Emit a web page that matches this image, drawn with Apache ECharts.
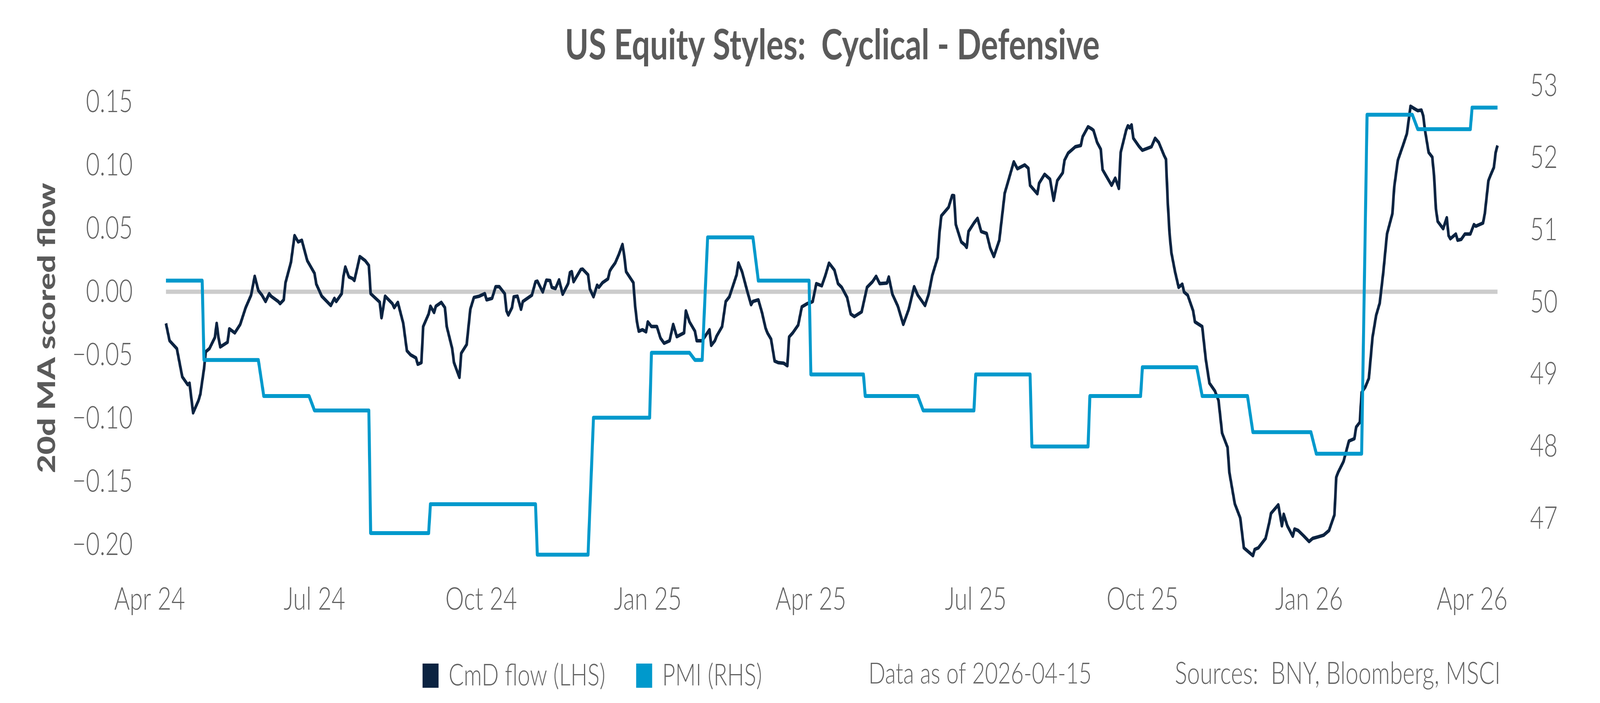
<!DOCTYPE html>
<html><head><meta charset="utf-8">
<script src="https://cdn.jsdelivr.net/npm/echarts@6/dist/echarts.min.js"></script>
<style>html,body{margin:0;padding:0;background:#fff;overflow:hidden}#wrap{width:100vw;height:100vh;overflow:hidden;position:relative}#chart{width:5400px;height:1800px;transform-origin:0 0;position:absolute;left:0;top:0}</style>
</head><body><div id="wrap"><div id="chart"></div></div>
<script>
const flowDates = ['2024-04-10','2024-04-12','2024-04-16','2024-04-19','2024-04-22','2024-04-23','2024-04-25','2024-04-28','2024-04-29','2024-05-01','2024-05-02','2024-05-04','2024-05-07','2024-05-08','2024-05-09','2024-05-10','2024-05-14','2024-05-15','2024-05-18','2024-05-21','2024-05-24','2024-05-27','2024-05-29','2024-05-31','2024-06-02','2024-06-04','2024-06-06','2024-06-07','2024-06-11','2024-06-12','2024-06-14','2024-06-15','2024-06-18','2024-06-20','2024-06-22','2024-06-24','2024-06-27','2024-07-01','2024-07-02','2024-07-05','2024-07-10','2024-07-12','2024-07-13','2024-07-16','2024-07-17','2024-07-18','2024-07-20','2024-07-22','2024-07-23','2024-07-25','2024-07-26','2024-07-29','2024-07-31','2024-08-01','2024-08-06','2024-08-07','2024-08-09','2024-08-13','2024-08-14','2024-08-16','2024-08-19','2024-08-21','2024-08-23','2024-08-26','2024-08-27','2024-08-29','2024-08-30','2024-09-02','2024-09-03','2024-09-05','2024-09-06','2024-09-09','2024-09-11','2024-09-12','2024-09-15','2024-09-16','2024-09-19','2024-09-20','2024-09-23','2024-09-25','2024-09-27','2024-09-30','2024-10-03','2024-10-04','2024-10-07','2024-10-09','2024-10-11','2024-10-14','2024-10-15','2024-10-16','2024-10-18','2024-10-19','2024-10-21','2024-10-23','2024-10-24','2024-10-29','2024-10-31','2024-11-01','2024-11-04','2024-11-06','2024-11-08','2024-11-09','2024-11-11','2024-11-13','2024-11-15','2024-11-18','2024-11-19','2024-11-20','2024-11-21','2024-11-25','2024-11-26','2024-11-29','2024-11-30','2024-12-02','2024-12-04','2024-12-05','2024-12-07','2024-12-10','2024-12-11','2024-12-12','2024-12-14','2024-12-16','2024-12-18','2024-12-19','2024-12-20','2024-12-24','2024-12-25','2024-12-26','2024-12-27','2024-12-29','2024-12-31','2025-01-01','2025-01-03','2025-01-06','2025-01-08','2025-01-10','2025-01-13','2025-01-15','2025-01-17','2025-01-21','2025-01-22','2025-01-24','2025-01-27','2025-01-28','2025-01-31','2025-02-04','2025-02-05','2025-02-07','2025-02-08','2025-02-11','2025-02-13','2025-02-15','2025-02-17','2025-02-19','2025-02-20','2025-02-22','2025-02-25','2025-02-27','2025-02-28','2025-03-03','2025-03-05','2025-03-07','2025-03-08','2025-03-10','2025-03-12','2025-03-14','2025-03-17','2025-03-19','2025-03-20','2025-03-22','2025-03-25','2025-03-27','2025-03-30','2025-04-01','2025-04-02','2025-04-04','2025-04-07','2025-04-09','2025-04-11','2025-04-12','2025-04-14','2025-04-16','2025-04-18','2025-04-21','2025-04-23','2025-04-25','2025-04-29','2025-05-02','2025-05-05','2025-05-07','2025-05-09','2025-05-13','2025-05-14','2025-05-16','2025-05-19','2025-05-22','2025-05-25','2025-05-28','2025-05-30','2025-06-03','2025-06-05','2025-06-07','2025-06-10','2025-06-11','2025-06-12','2025-06-16','2025-06-18','2025-06-19','2025-06-20','2025-06-23','2025-06-25','2025-06-26','2025-06-27','2025-06-30','2025-07-02','2025-07-04','2025-07-07','2025-07-09','2025-07-11','2025-07-14','2025-07-17','2025-07-19','2025-07-22','2025-07-24','2025-07-28','2025-07-30','2025-07-31','2025-08-04','2025-08-05','2025-08-08','2025-08-11','2025-08-13','2025-08-15','2025-08-18','2025-08-19','2025-08-21','2025-08-25','2025-08-28','2025-08-29','2025-09-01','2025-09-03','2025-09-04','2025-09-06','2025-09-08','2025-09-09','2025-09-11','2025-09-14','2025-09-16','2025-09-18','2025-09-19','2025-09-22','2025-09-23','2025-09-24','2025-09-25','2025-09-26','2025-09-29','2025-10-01','2025-10-06','2025-10-08','2025-10-10','2025-10-13','2025-10-14','2025-10-15','2025-10-16','2025-10-17','2025-10-19','2025-10-21','2025-10-23','2025-10-24','2025-10-26','2025-10-29','2025-10-30','2025-11-03','2025-11-05','2025-11-07','2025-11-10','2025-11-12','2025-11-14','2025-11-17','2025-11-18','2025-11-21','2025-11-24','2025-11-26','2025-12-01','2025-12-02','2025-12-04','2025-12-08','2025-12-10','2025-12-11','2025-12-15','2025-12-17','2025-12-18','2025-12-20','2025-12-23','2025-12-24','2025-12-26','2025-12-29','2026-01-01','2026-01-03','2026-01-06','2026-01-09','2026-01-12','2026-01-15','2026-01-16','2026-01-17','2026-01-20','2026-01-23','2026-01-26','2026-01-27','2026-01-29','2026-01-30','2026-02-01','2026-02-03','2026-02-05','2026-02-07','2026-02-09','2026-02-11','2026-02-13','2026-02-16','2026-02-17','2026-02-19','2026-02-22','2026-02-24','2026-02-26','2026-02-28','2026-03-02','2026-03-04','2026-03-05','2026-03-06','2026-03-08','2026-03-10','2026-03-11','2026-03-12','2026-03-13','2026-03-16','2026-03-18','2026-03-19','2026-03-20','2026-03-23','2026-03-24','2026-03-26','2026-03-28','2026-03-31','2026-04-02','2026-04-03','2026-04-07','2026-04-08','2026-04-10','2026-04-11','2026-04-13','2026-04-14','2026-04-15'];
const flowValues = [-0.025,-0.0387,-0.0449,-0.0672,-0.0734,-0.0722,-0.0957,-0.0858,-0.0808,-0.061,-0.0474,-0.0449,-0.0362,-0.025,-0.0362,-0.0436,-0.0399,-0.0293,-0.0325,-0.0258,-0.0126,-0.0027,0.0122,0.001,-0.0027,-0.0077,-0.0015,-0.0035,-0.0077,-0.0094,-0.0064,0.0072,0.0233,0.0444,0.0394,0.0407,0.0246,0.0146,0.006,-0.0035,-0.0109,-0.0052,-0.0077,-0.0015,0.0122,0.0196,0.0117,0.0104,0.0089,0.0213,0.0278,0.0246,0.0208,-0.0015,-0.0082,-0.0206,-0.0035,-0.0094,-0.0126,-0.0084,-0.025,-0.0466,-0.0498,-0.0523,-0.0573,-0.056,-0.0275,-0.0176,-0.0114,-0.0164,-0.0114,-0.0084,-0.0126,-0.0275,-0.0449,-0.056,-0.0677,-0.0486,-0.0417,-0.0139,-0.0045,-0.0035,-0.0015,-0.0064,-0.0052,0.004,0.004,-0.0015,-0.0151,-0.0184,-0.0126,-0.004,-0.0035,-0.0139,-0.0077,-0.0027,0.0079,0.0084,-0.0002,0.0092,0.0089,0.0035,0.0025,0.0094,-0.002,0.0064,0.0151,0.0159,0.0079,0.0176,0.0179,0.0134,0.0022,-0.004,0.0052,0.0035,0.0072,0.0102,0.0164,0.0188,0.0228,0.0295,0.0374,0.0283,0.0159,0.0072,-0.0114,-0.0238,-0.0312,-0.03,-0.0317,-0.0238,-0.0275,-0.0275,-0.0367,-0.0407,-0.0387,-0.0258,-0.0355,-0.0325,-0.0151,-0.0238,-0.0312,-0.0387,-0.0387,-0.03,-0.0424,-0.0387,-0.035,-0.0275,-0.0077,-0.004,0.0047,0.0134,0.0228,0.0159,-0.0002,-0.0102,-0.0077,-0.0064,-0.0164,-0.0288,-0.0325,-0.0374,-0.0548,-0.056,-0.0565,-0.0585,-0.0357,-0.0325,-0.0263,-0.0119,-0.0094,-0.0084,-0.0077,0.0064,0.0047,0.0129,0.0226,0.0208,0.0171,0.0064,0.0035,-0.0045,-0.0176,-0.0196,-0.0159,0.0035,0.0079,0.0122,0.0064,0.0069,0.0117,-0.002,-0.0114,-0.0258,-0.0139,0.004,-0.0027,-0.0109,-0.002,0.0129,0.027,0.0469,0.06,0.0667,0.0761,0.0759,0.0531,0.0394,0.037,0.035,0.0476,0.0543,0.058,0.0476,0.0461,0.0345,0.0278,0.0407,0.0779,0.0878,0.1027,0.0972,0.1002,0.0977,0.0841,0.0774,0.0858,0.0928,0.089,0.0722,0.0878,0.094,0.1039,0.1096,0.1146,0.1156,0.1225,0.1304,0.1287,0.1275,0.118,0.1126,0.0965,0.0915,0.0841,0.0898,0.0816,0.1101,0.1275,0.1312,0.1295,0.1319,0.1213,0.1151,0.1118,0.1146,0.1213,0.118,0.1076,0.1047,0.0704,0.0456,0.0308,0.0159,0.0035,0.006,-0.0002,-0.0027,-0.0151,-0.0238,-0.0275,-0.0536,-0.0722,-0.0784,-0.0858,-0.1118,-0.123,-0.1428,-0.1676,-0.1788,-0.2024,-0.2086,-0.2036,-0.2024,-0.1949,-0.1825,-0.1751,-0.1684,-0.185,-0.1758,-0.185,-0.1932,-0.1875,-0.1887,-0.1929,-0.1974,-0.1949,-0.1937,-0.1924,-0.1887,-0.1763,-0.1466,-0.1428,-0.1342,-0.118,-0.1161,-0.1069,-0.1032,-0.0796,-0.0754,-0.0684,-0.0362,-0.0188,-0.0089,0.0159,0.0456,0.0618,0.0828,0.1039,0.1163,0.125,0.1466,0.1448,0.1431,0.1436,0.1391,0.1275,0.1101,0.1064,0.0915,0.0655,0.0556,0.0498,0.0585,0.0444,0.0419,0.0456,0.0407,0.0414,0.0456,0.0456,0.0531,0.0518,0.0543,0.0618,0.0878,0.0915,0.0982,0.1101,0.1156];

const pmiReleaseDates = ['2024-04-10','2024-05-01','2024-06-03','2024-07-01','2024-08-01','2024-09-03','2024-11-01','2024-12-02','2025-01-03','2025-01-27','2025-02-03','2025-03-03','2025-04-01','2025-05-01','2025-06-02','2025-07-01','2025-08-01','2025-09-02','2025-10-01','2025-11-03','2025-12-01','2026-01-05','2026-02-02','2026-03-02','2026-04-01'];
const pmiValues = [50.3,49.2,48.7,48.5,46.8,47.2,46.5,48.4,49.3,49.2,50.9,50.3,49.0,48.7,48.5,49.0,48.0,48.7,49.1,48.7,48.2,47.9,52.6,52.4,52.7];
const pmiEndDate = '2026-04-15';

const xTickDates = ['2024-04-01','2024-07-01','2024-10-01','2025-01-01','2025-04-01','2025-07-01','2025-10-01','2026-01-01','2026-04-01'];
const xTickLabels = ['Apr 24','Jul 24','Oct 24','Jan 25','Apr 25','Jul 25','Oct 25','Jan 26','Apr 26'];
const leftTicks = [-0.20,-0.15,-0.10,-0.05,0.00,0.05,0.10,0.15];
const rightTicks = [47,48,49,50,51,52,53];

const seriesNames = ['CmD flow (LHS)','PMI (RHS)'];
const titleText = 'US Equity Styles:  Cyclical - Defensive';
const yAxisTitle = '20d MA scored flow';
const noteText = 'Data as of 2026-04-15';
const sourceText = 'Sources:  BNY, Bloomberg, MSCI';

function ts(s){ const p = s.split('-').map(Number); return Date.UTC(p[0], p[1]-1, p[2]); }
function prevBusinessDay(t){ let d = t - 86400000; while ([0,6].includes(new Date(d).getUTCDay())) d -= 86400000; return d; }

const tickTs = xTickDates.map(ts);
const flowData = flowDates.map((d,i)=>[ts(d), flowValues[i]]);
const pmiData = [];
pmiReleaseDates.forEach((s,i)=>{
  const t = ts(s);
  if (i > 0) pmiData.push([prevBusinessDay(t), pmiValues[i-1]]);
  pmiData.push([t, pmiValues[i]]);
});
pmiData.push([ts(pmiEndDate), pmiValues[pmiValues.length-1]]);
const zeroData = [[ts(flowDates[0]),0],[ts(flowDates[flowDates.length-1]),0]];

const GRAY = '#626262';
const FONT = 'Lato';
const NAVY = '#0b2341';
const CYAN = '#0099cc';

// fit the 5400x1800 design onto the whole viewport
const el = document.getElementById('chart');
const vw = window.innerWidth || 5400, vh = window.innerHeight || 1800;
const sx = vw / 5400, sy = vh / 1800;
if (Math.abs(sx - 1) > 0.001 || Math.abs(sy - 1) > 0.001) el.style.transform = 'scale(' + sx + ',' + sy + ')';

const chart = echarts.init(el, null, {renderer:'canvas', width:5400, height:1800});
chart.setOption({
  animation:false,
  backgroundColor:'#ffffff',
  title:{ text:titleText, left:2809, top:63, textAlign:'center', padding:0,
    textStyle:{ fontFamily:FONT, fontWeight:'bold', fontSize:108, color:'#5a5a5a' } },
  legend:{ data:seriesNames, left:1426, top:1692, padding:0, icon:'rect', itemWidth:54, itemHeight:62, itemGap:104,
    textStyle:{ fontFamily:FONT, fontWeight:300, fontSize:76, color:GRAY, padding:[0,0,0,29] } },
  graphic:[
    { type:'text', x:2931, y:1726, style:{ text:noteText, fontFamily:FONT, fontWeight:300, fontSize:75, fill:GRAY, verticalAlign:'middle', align:'left' } },
    { type:'text', x:3965, y:1726, style:{ text:sourceText, fontFamily:FONT, fontWeight:300, fontSize:78, fill:GRAY, verticalAlign:'middle', align:'left' } }
  ],
  grid:{ left:505, right:346, top:215, bottom:335 },
  xAxis:{ type:'value', min:ts('2024-04-01'), max:ts('2026-04-15'),
    axisLine:{show:false}, axisTick:{show:false}, splitLine:{show:false},
    axisLabel:{ customValues:tickTs, margin:30, fontFamily:FONT, fontWeight:300, fontSize:80, color:GRAY, hideOverlap:false, showMinLabel:true, showMaxLabel:true,
      formatter:function(v){ const i = tickTs.indexOf(v); return i >= 0 ? xTickLabels[i] : ''; } } },
  yAxis:[
    { type:'value', position:'left', min:-0.221605, max:0.164198,
      axisLine:{show:false}, axisTick:{show:false}, splitLine:{show:false},
      axisLabel:{ customValues:leftTicks, margin:57, fontFamily:FONT, fontWeight:300, fontSize:80, color:GRAY,
        formatter:function(v){ return (v < 0 ? '\u2212' : '') + Math.abs(v).toFixed(2); } },
      name:yAxisTitle, nameLocation:'middle', nameGap:304, nameRotate:90,
      nameTextStyle:{ fontFamily:FONT, fontWeight:900, fontSize:82, color:'#5a5a5a' } },
    { type:'value', position:'right', min:46.25814, max:53.02707,
      axisLine:{show:false}, axisTick:{show:false}, splitLine:{show:false},
      axisLabel:{ customValues:rightTicks, margin:110, fontFamily:FONT, fontWeight:300, fontSize:80, color:GRAY,
        formatter:function(v){ return String(v); } } }
  ],
  series:[
    { name:'zero', type:'line', yAxisIndex:0, data:zeroData, symbol:'none', silent:true, z:1,
      lineStyle:{ color:'#cccccc', width:11 } },
    { name:seriesNames[0], type:'line', yAxisIndex:0, data:flowData, symbol:'none', z:3,
      itemStyle:{ color:NAVY }, lineStyle:{ color:NAVY, width:9, join:'round' } },
    { name:seriesNames[1], type:'line', yAxisIndex:1, data:pmiData, symbol:'none', z:4,
      itemStyle:{ color:CYAN }, lineStyle:{ color:CYAN, width:10, join:'round' } }
  ]
});
</script></body></html>
